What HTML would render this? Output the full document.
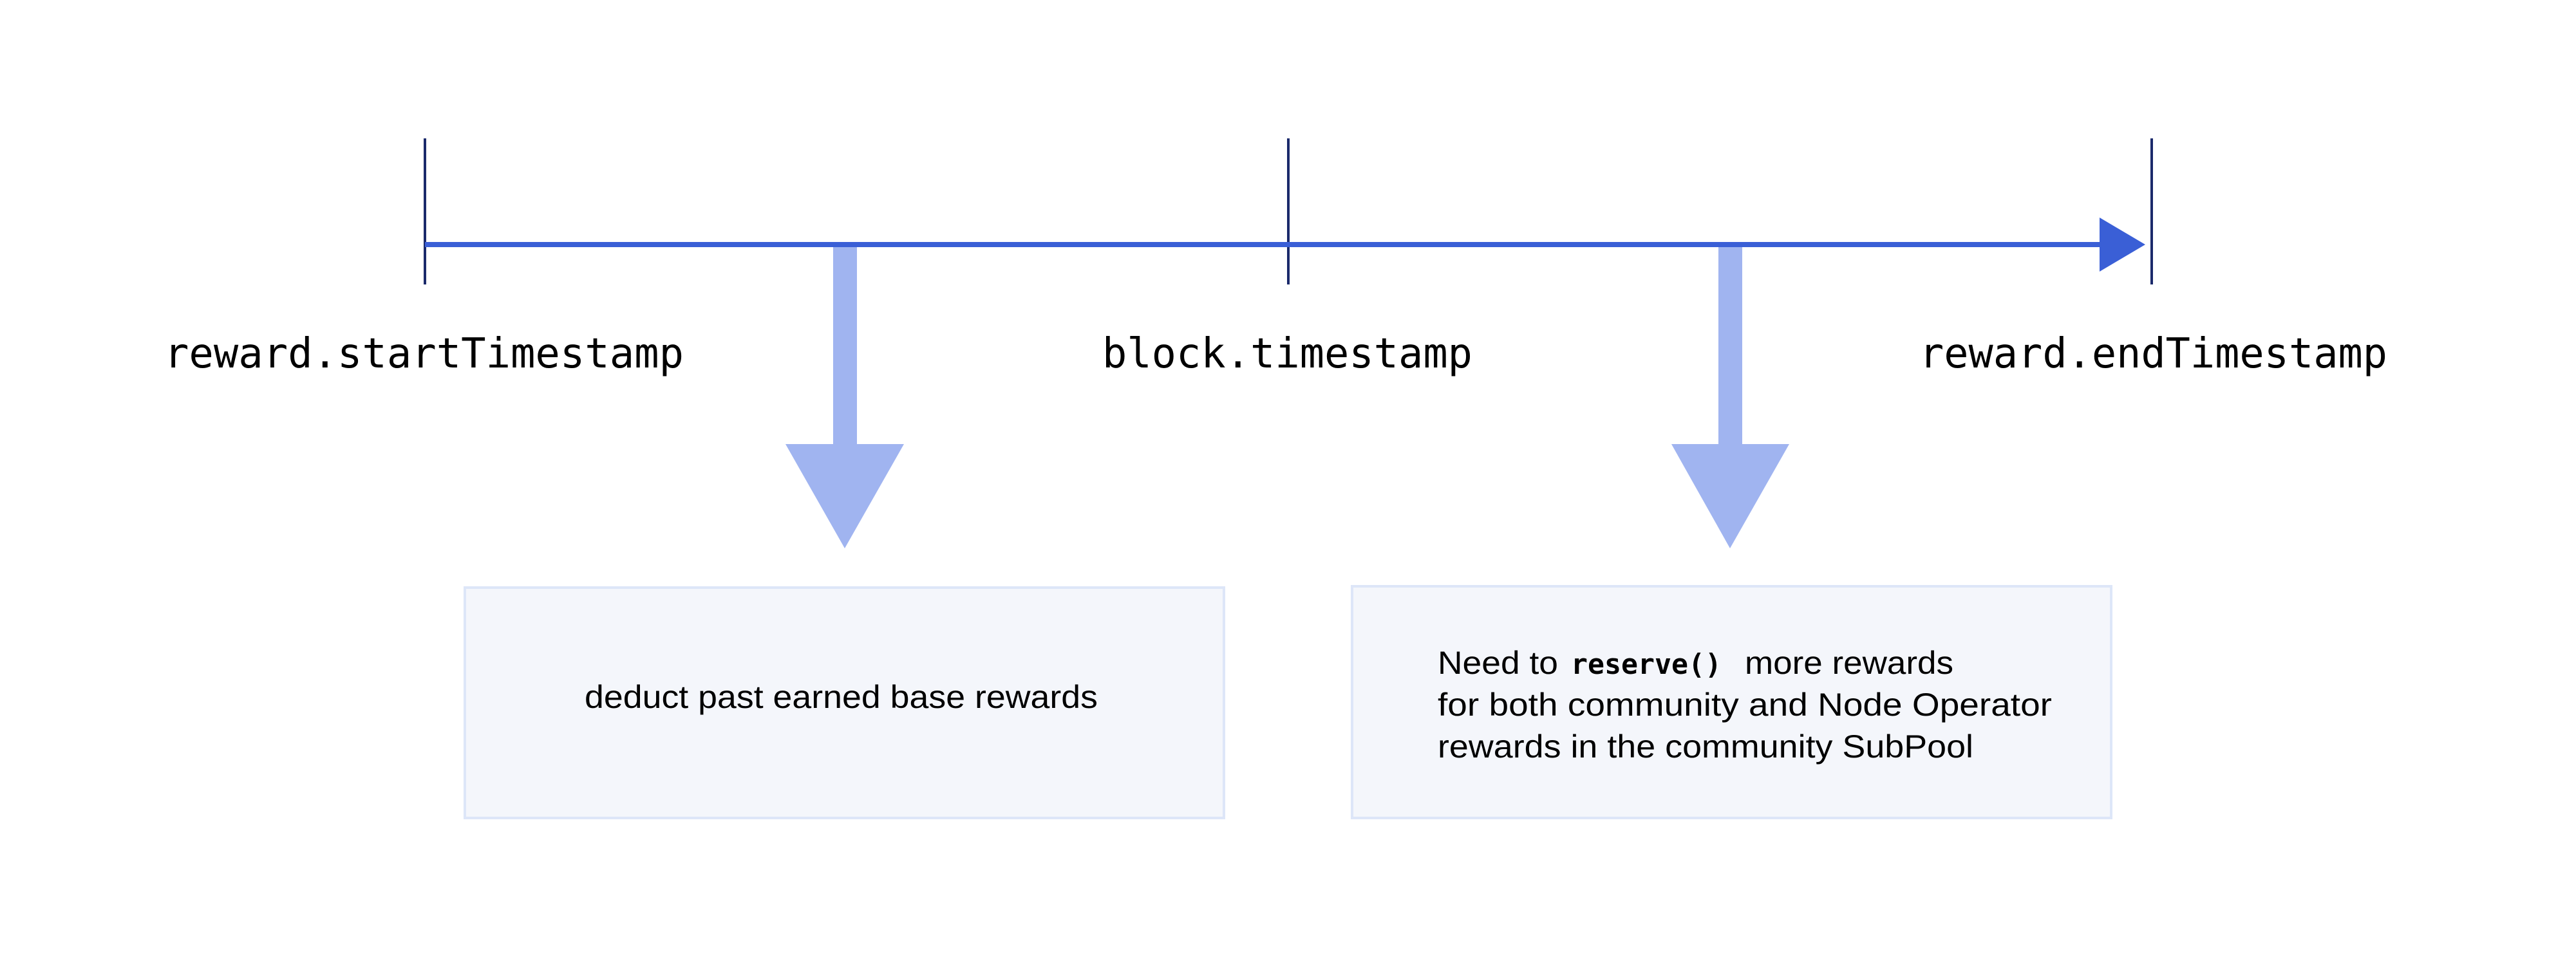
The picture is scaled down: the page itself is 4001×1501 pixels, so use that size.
<!DOCTYPE html>
<html><head><meta charset="utf-8"><style>
html,body{margin:0;padding:0;background:#fff;}
svg{display:block;}
</style></head><body>
<svg width="4001" height="1501" viewBox="0 0 4001 1501" xmlns="http://www.w3.org/2000/svg">
<rect width="4001" height="1501" fill="#fff"/>
<line x1="660" y1="215" x2="660" y2="442" stroke="#1b2a6b" stroke-width="4"/>
<line x1="2001" y1="215" x2="2001" y2="442" stroke="#1b2a6b" stroke-width="4"/>
<line x1="3342" y1="215" x2="3342" y2="442" stroke="#1b2a6b" stroke-width="4"/>
<line x1="660" y1="380" x2="3265" y2="380" stroke="#3a5fd6" stroke-width="8"/>
<polygon points="3261,338 3332,380 3261,422" fill="#3a5fd6"/>
<rect x="1294" y="384" width="37" height="308" fill="#a0b4f0"/>
<polygon points="1220,690 1404,690 1312,852" fill="#a0b4f0"/>
<rect x="2669" y="384" width="37" height="308" fill="#a0b4f0"/>
<polygon points="2596,690 2779,690 2687,852" fill="#a0b4f0"/>
<g font-family="'DejaVu Sans Mono','Liberation Mono',monospace" font-size="64" fill="#000">
<text x="255" y="571" textLength="807" lengthAdjust="spacingAndGlyphs">reward.startTimestamp</text>
<text x="1712" y="571" textLength="575" lengthAdjust="spacingAndGlyphs">block.timestamp</text>
<text x="2981" y="571" textLength="727" lengthAdjust="spacingAndGlyphs">reward.endTimestamp</text>
</g>
<rect x="722" y="913" width="1179" height="358" fill="#f4f6fb" stroke="#dde6f8" stroke-width="4"/>
<rect x="2100" y="911" width="1179" height="360" fill="#f4f6fb" stroke="#dde6f8" stroke-width="4"/>
<g font-family="'Liberation Sans',sans-serif" font-size="50" fill="#000">
<text x="908" y="1100" textLength="797" lengthAdjust="spacingAndGlyphs">deduct past earned base rewards</text>
<text x="2233" y="1047" textLength="187" lengthAdjust="spacingAndGlyphs">Need to</text>
<text x="2440" y="1047" font-family="'DejaVu Sans Mono','Liberation Mono',monospace" font-weight="bold" font-size="44" textLength="234" lengthAdjust="spacingAndGlyphs">reserve()</text>
<text x="2710" y="1047" textLength="324" lengthAdjust="spacingAndGlyphs">more rewards</text>
<text x="2233" y="1112" textLength="954" lengthAdjust="spacingAndGlyphs">for both community and Node Operator</text>
<text x="2233" y="1177" textLength="832" lengthAdjust="spacingAndGlyphs">rewards in the community SubPool</text>
</g>
</svg>
</body></html>
